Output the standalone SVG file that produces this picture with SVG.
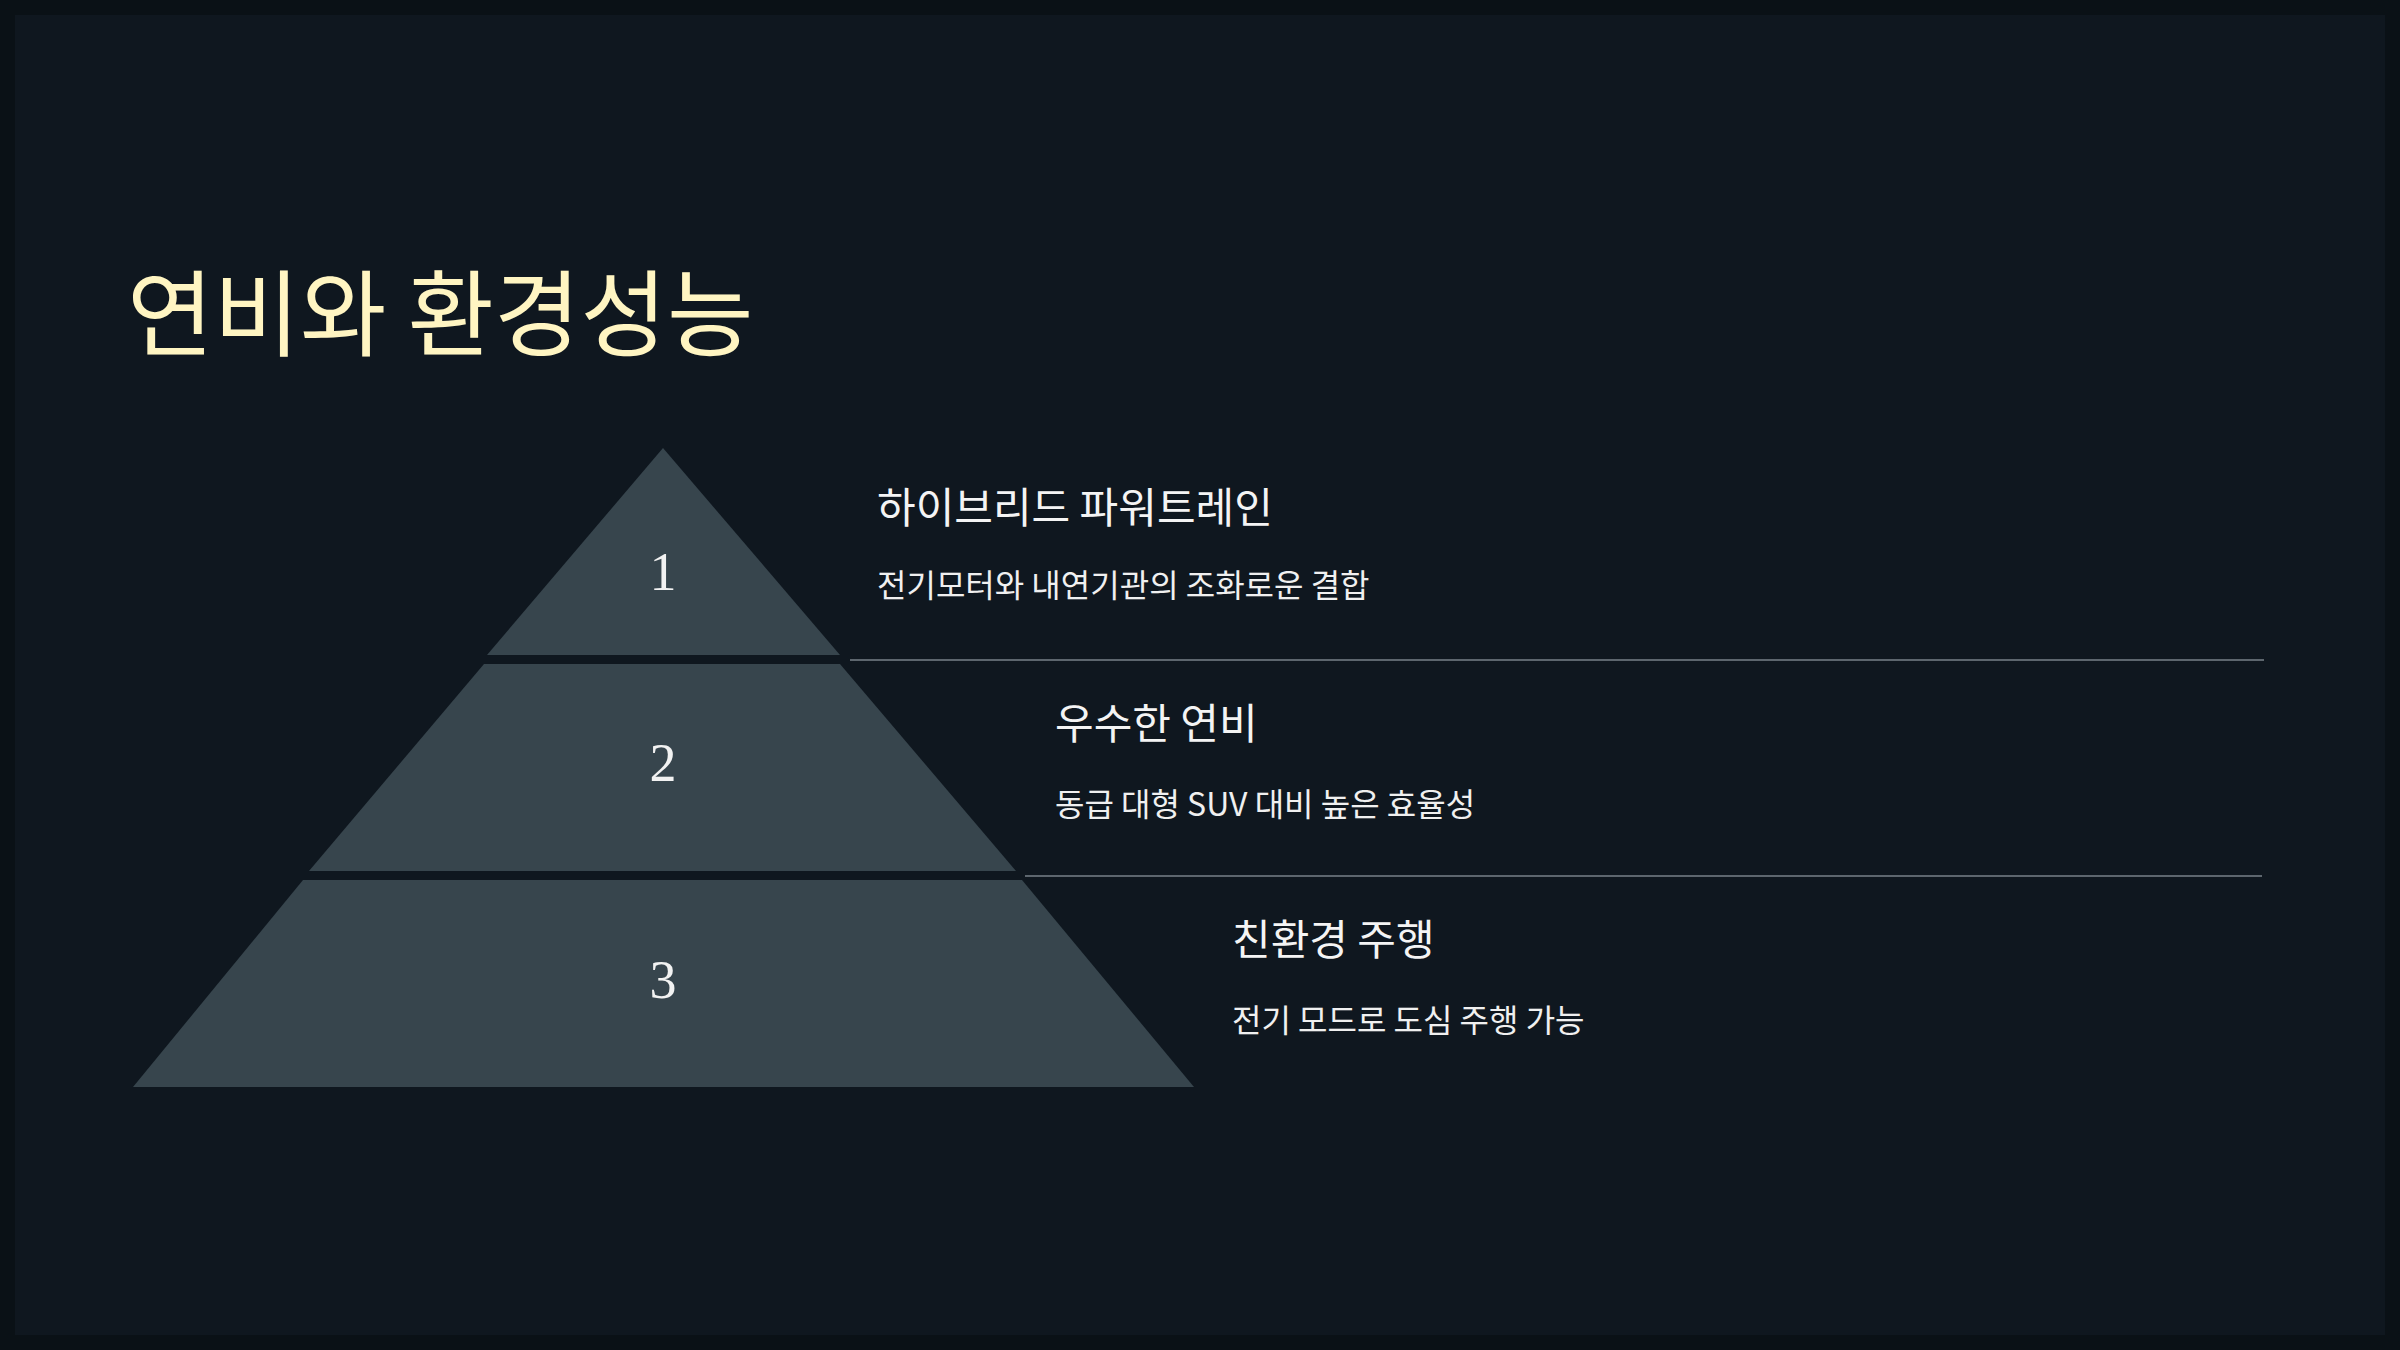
<svg xmlns="http://www.w3.org/2000/svg" width="2400" height="1350" viewBox="0 0 2400 1350">
<style>
.t{fill:#37454d}
.n{font-family:"Liberation Serif",serif;font-size:54px;fill:#f2f2f2;text-anchor:middle}
.h{font-family:"Noto Sans CJK KR","Noto Sans",sans-serif;font-size:42px;fill:#f4f4f4}
.s{font-family:"Noto Sans CJK KR","Noto Sans",sans-serif;font-size:32px;fill:#f0f0f0}
.l{stroke:#5d666e;stroke-width:2}
</style>
<rect width="2400" height="1350" fill="#0a1116"/>
<rect x="15" y="15" width="2370" height="1320" fill="#0f171f"/>
<text x="127" y="349" font-family="Noto Sans CJK KR,sans-serif" font-size="94" fill="#fff5c2">연비와 환경성능</text>
<g id="tier1"><polygon class="t" points="663,448 840,655 487,655"/><text class="n" x="663" y="590">1</text></g>
<g id="tier2"><polygon class="t" points="484,664 840,664 1016,871 309,871"/><text class="n" x="663" y="781">2</text></g>
<g id="tier3"><polygon class="t" points="303,880 1022,880 1194,1087 133,1087"/><text class="n" x="663" y="998">3</text></g>
<g id="connectors"><line class="l" x1="850" y1="660" x2="2264" y2="660"/><line class="l" x1="1025" y1="876" x2="2262" y2="876"/></g>
<g id="label1"><text class="h" x="877" y="523">하이브리드 파워트레인</text><text class="s" x="877" y="597">전기모터와 내연기관의 조화로운 결합</text></g>
<g id="label2"><text class="h" x="1055" y="739">우수한 연비</text><text class="s" x="1055" y="816">동급 대형 SUV 대비 높은 효율성</text></g>
<g id="label3"><text class="h" x="1232" y="955">친환경 주행</text><text class="s" x="1232" y="1032">전기 모드로 도심 주행 가능</text></g>
</svg>
